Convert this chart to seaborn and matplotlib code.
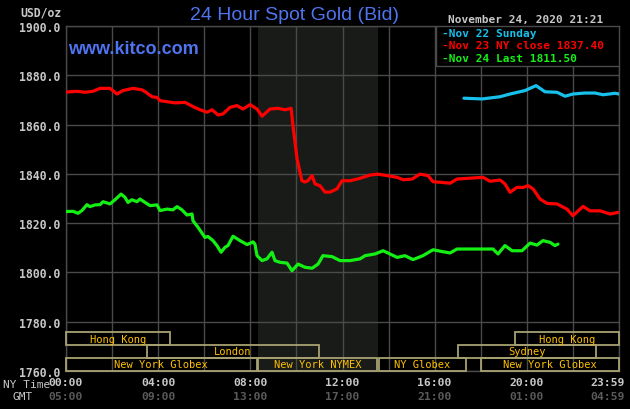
import matplotlib
matplotlib.use("Agg")
import matplotlib.pyplot as plt
from matplotlib.patches import Rectangle
import matplotlib.transforms as mtransforms
import pandas as pd
import seaborn as sns

# ---------------- data ----------------
red_hours = [0.0, 0.48, 0.82, 1.17, 1.48, 1.91, 2.21, 2.47, 2.91, 3.30, 3.47, 3.73, 3.95, 4.08,
             4.38, 4.73, 5.17, 5.51, 5.82, 6.12, 6.34, 6.60, 6.81, 7.12, 7.42, 7.68, 7.99, 8.29,
             8.51, 8.85, 9.20, 9.51, 9.77, 9.85, 10.03, 10.16, 10.24, 10.37, 10.50, 10.68, 10.81,
             11.02, 11.24, 11.46, 11.76, 11.98, 12.33, 12.76, 13.19, 13.54, 13.93, 14.37, 14.63,
             15.02, 15.36, 15.71, 15.93, 16.23, 16.67, 16.97, 18.10, 18.40, 18.84, 19.05, 19.27,
             19.57, 19.84, 20.05, 20.27, 20.57, 20.88, 21.31, 21.74, 22.00, 22.44, 22.74, 23.18,
             23.61, 23.98]
red_prices = [1873.2, 1873.5, 1873.1, 1873.5, 1874.7, 1874.7, 1872.4, 1873.8, 1874.7, 1874.1,
              1873.1, 1871.3, 1871.0, 1869.7, 1869.3, 1868.8, 1869.0, 1867.3, 1866.0, 1865.0,
              1866.0, 1863.9, 1864.3, 1867.0, 1867.7, 1866.3, 1868.1, 1866.3, 1863.4, 1866.3,
              1866.6, 1866.0, 1866.6, 1859.5, 1846.0, 1840.5, 1837.2, 1836.7, 1837.2, 1839.3,
              1835.9, 1835.2, 1832.6, 1832.6, 1833.9, 1837.2, 1837.2, 1838.2, 1839.5, 1839.9,
              1839.3, 1838.6, 1837.6, 1837.9, 1839.9, 1839.3, 1836.8, 1836.6, 1836.2, 1837.9,
              1838.6, 1837.0, 1837.5, 1835.9, 1832.5, 1834.5, 1834.5, 1835.2, 1833.9, 1829.8,
              1828.0, 1827.8, 1825.7, 1823.0, 1826.8, 1825.0, 1825.0, 1823.7, 1824.4]

green_hours = [0.0, 0.30, 0.52, 0.69, 0.91, 1.04, 1.26, 1.48, 1.61, 1.91, 2.13, 2.39, 2.56, 2.69,
               2.86, 3.08, 3.21, 3.43, 3.65, 3.95, 4.08, 4.38, 4.64, 4.82, 5.03, 5.25, 5.47, 5.51,
               5.73, 6.03, 6.16, 6.38, 6.55, 6.73, 6.90, 7.03, 7.25, 7.55, 7.86, 8.12, 8.20, 8.29,
               8.51, 8.72, 8.94, 9.07, 9.29, 9.59, 9.81, 10.07, 10.37, 10.68, 10.94, 11.15, 11.55,
               11.89, 12.33, 12.76, 12.98, 13.41, 13.76, 14.06, 14.37, 14.71, 15.06, 15.49, 15.93,
               16.36, 16.67, 16.97, 18.10, 18.53, 18.75, 19.05, 19.36, 19.79, 20.14, 20.44, 20.70,
               21.01, 21.22, 21.35]
green_prices = [1824.7, 1824.8, 1824.0, 1825.1, 1827.5, 1826.7, 1827.4, 1827.5, 1828.7, 1827.8,
                1829.5, 1831.8, 1830.5, 1828.4, 1829.5, 1828.7, 1829.8, 1828.4, 1827.1, 1827.4,
                1825.1, 1825.7, 1825.4, 1826.7, 1825.4, 1823.3, 1823.7, 1821.0, 1818.3, 1814.2,
                1814.6, 1812.9, 1810.9, 1808.2, 1810.2, 1810.9, 1814.7, 1812.9, 1811.3, 1812.4,
                1811.5, 1806.8, 1804.8, 1805.5, 1808.2, 1804.8, 1804.1, 1803.8, 1800.7, 1803.4,
                1802.1, 1801.7, 1803.4, 1806.8, 1806.4, 1804.8, 1804.8, 1805.5, 1806.8, 1807.5,
                1808.8, 1807.5, 1806.1, 1806.8, 1805.2, 1806.8, 1809.2, 1808.4, 1807.9, 1809.5,
                1809.5, 1809.5, 1807.5, 1810.9, 1808.8, 1808.8, 1811.9, 1811.1, 1812.9, 1812.2,
                1810.9, 1811.5]

cyan_hours = [17.27, 18.06, 18.84, 19.27, 19.92, 20.40, 20.79, 21.31, 21.66, 22.00, 22.53, 22.96,
              23.31, 23.83, 24.0]
cyan_prices = [1870.7, 1870.4, 1871.3, 1872.4, 1873.8, 1875.8, 1873.3, 1873.1, 1871.5, 1872.4,
               1872.8, 1872.8, 1872.1, 1872.7, 1872.4]

legend_labels = ["-Nov 22 Sunday", "-Nov 23 NY close 1837.40", "-Nov 24 Last 1811.50"]

y_ticks = [1760, 1780, 1800, 1820, 1840, 1860, 1880, 1900]
x_grid = list(range(0, 25, 2))
ny_tick_hours = [0, 4, 8, 12, 16, 20, 23.5]
ny_tick_labels = ["00:00", "04:00", "08:00", "12:00", "16:00", "20:00", "23:59"]
gmt_tick_labels = ["05:00", "09:00", "13:00", "17:00", "21:00", "01:00", "04:59"]

nymex_start, nymex_end = 8.333, 13.55

session_names = ["Hong Kong", "London", "New York Globex", "New York NYMEX", "NY Globex",
                 "New York Globex", "Sydney", "Hong Kong"]
session_start = [0.0, 3.5, 0.0, 8.333, 13.58, 18.0, 17.0, 19.5]
session_end = [4.5, 11.0, 8.27, 13.5, 17.35, 24.0, 23.0, 24.0]
session_row = [2, 1, 0, 0, 0, 0, 1, 2]
row_bottoms = [1760.0, 1765.3, 1770.5]
row_height = 5.3

# ---------------- style ----------------
BG = "#000000"
SHADE = "#191b19"
GRID = "#4a4a4a"
BOX = "#a8a272"
AMBER = "#ffc000"
LIGHT = "#c8c8c8"
DIM = "#5a5a5a"
TITLE = "#4f74f0"
RED = "#ff0000"
GREEN = "#14f014"
CYAN = "#18c0ec"

sns.set_theme(style="dark")
plt.rcParams['font.family'] = ['DejaVu Sans Mono', 'DejaVu Sans']

fig = plt.figure(figsize=(6.3, 4.1), dpi=100, facecolor=BG)
ax = fig.add_axes([66 / 630, 38 / 410, 553 / 630, 345 / 410])
ax.set_facecolor(BG)
ax.set_xlim(0, 24)
ax.set_ylim(1760, 1900)

ax.axvspan(nymex_start, nymex_end, color=SHADE, zorder=0, lw=0)
ax.set_axisbelow(True)
ax.set_xticks(x_grid)
ax.set_yticks(y_ticks)
ax.grid(True, color=GRID, lw=1.0)
ax.set_xticklabels([])
ax.set_yticklabels([f"{v:.1f}" for v in y_ticks])
ax.tick_params(axis="both", length=0)
ax.tick_params(axis="y", pad=4, labelcolor=LIGHT, labelsize=8.3)
for lab in ax.get_yticklabels():
    lab.set_fontweight("bold")
for s in ax.spines.values():
    s.set_color(GRID)
    s.set_linewidth(1.0)
ax.set_xlabel("")
ax.set_ylabel("")

df_red = pd.DataFrame({"h": red_hours, "p": red_prices})
df_green = pd.DataFrame({"h": green_hours, "p": green_prices})
df_cyan = pd.DataFrame({"h": cyan_hours, "p": cyan_prices})
for df, col in [(df_red, RED), (df_green, GREEN), (df_cyan, CYAN)]:
    sns.lineplot(data=df, x="h", y="p", color=col, lw=2.3, estimator=None, sort=False, ax=ax,
                 zorder=4)
ax.set_xlabel("")
ax.set_ylabel("")

# session boxes
for name, s0, s1, r in zip(session_names, session_start, session_end, session_row):
    y0 = row_bottoms[r]
    ax.add_patch(Rectangle((s0, y0), s1 - s0, row_height, fill=False, edgecolor=BOX,
                           lw=1.3, zorder=5, clip_on=False))
    ax.text((s0 + s1) / 2, y0 + row_height / 2, name, ha="center", va="center",
            color=AMBER, fontsize=7.5, zorder=6)

# legend box
ax.add_patch(Rectangle((370 / 553, 1 - 40 / 345), 183 / 553, 40 / 345, transform=ax.transAxes,
                       facecolor=BG, edgecolor=GRID, lw=1.0, zorder=7))
for lab, col, yp in zip(legend_labels, [CYAN, RED, GREEN], [0.980, 0.945, 0.907]):
    ax.text(376 / 553, yp, lab, transform=ax.transAxes, ha="left", va="center", color=col,
            fontsize=8, fontweight="bold", zorder=8)

# x-axis labels (two rows)
trans = mtransforms.blended_transform_factory(ax.transData, ax.transAxes)
for h, ny, gmt in zip(ny_tick_hours, ny_tick_labels, gmt_tick_labels):
    ax.text(h, -0.032, ny, transform=trans, ha="center", va="center", color=LIGHT,
            fontsize=8.2, fontweight="bold", clip_on=False)
    ax.text(h, -0.073, gmt, transform=trans, ha="center", va="center", color=DIM,
            fontsize=8.2, fontweight="bold", clip_on=False)
fig.text(3 / 630, 1 - 385 / 410, "NY Time", ha="left", va="center", color=LIGHT, fontsize=8)
fig.text(12 / 630, 1 - 397 / 410, "GMT", ha="left", va="center", color=LIGHT, fontsize=8)

# header texts
fig.text(62 / 630, 1 - 13 / 410, "USD/oz", ha="right", va="center", color=LIGHT, fontsize=8.3,
         fontweight="bold")
fig.text(294.5 / 630, 1 - 15 / 410, "24 Hour Spot Gold (Bid)", ha="center", va="center",
         color=TITLE, fontsize=14, family="Liberation Sans")
fig.text(448 / 630, 1 - 20 / 410, "November 24, 2020 21:21", ha="left", va="center",
         color=LIGHT, fontsize=8, fontweight="bold")
fig.text(68 / 630, 1 - 49 / 410, "www.kitco.com", ha="left", va="center", color=TITLE,
         fontsize=13, fontweight="bold", family="Liberation Sans", zorder=9)

fig.savefig("out.png", dpi=100, facecolor=BG)
